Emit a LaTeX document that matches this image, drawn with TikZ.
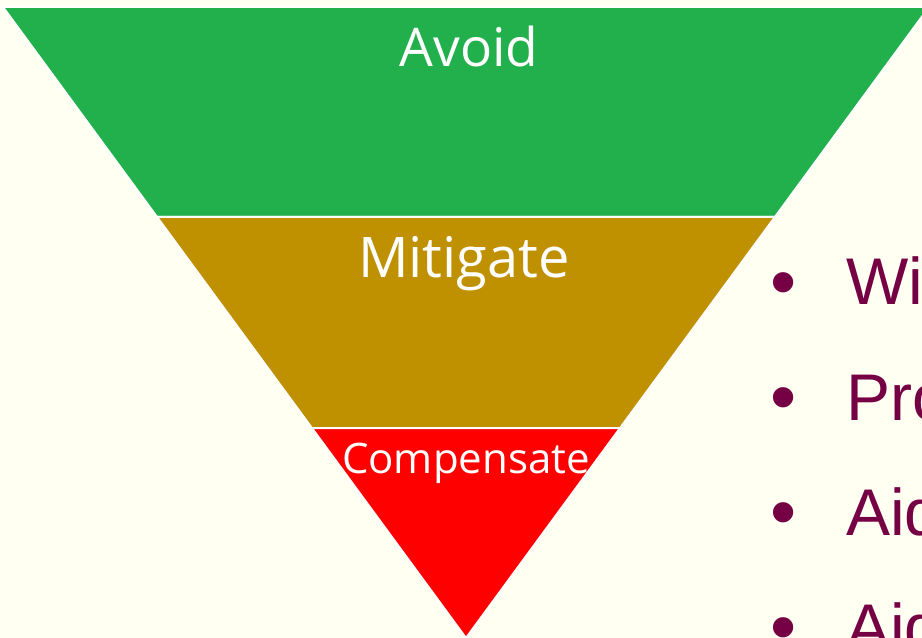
\documentclass[tikz,border=0pt]{standalone}
\usepackage{fontspec}
\newfontfamily\labelfont{Open Sans}
\newfontfamily\itemfont{Liberation Sans}

\definecolor{bgcream}{RGB}{255,255,242}
\definecolor{avoidgreen}{RGB}{33,176,75}
\definecolor{mitigategold}{RGB}{191,144,0}
\definecolor{compred}{RGB}{255,0,0}
\definecolor{itemmaroon}{RGB}{118,0,68}

\def\apx{466}    % apex of the funnel, x
\def\apy{638}    % apex of the funnel, y
\def\slope{.7338} % half width per unit of height
\def\gap{115}    % distance between two bullet lines

\begin{document}
\begin{tikzpicture}[x=.75pt,y=-.75pt,
  band/.style={draw=white, line width=1.5pt},
  bandlabel/.style={text=white, inner sep=0, anchor=base},
  dotmark/.style={text=itemmaroon, inner sep=0, font=\itemfont\fontsize{56}{57}\selectfont},
  itemtext/.style={text=itemmaroon, inner sep=0, anchor=base west, font=\itemfont\fontsize{49.5}{50}\selectfont}]

% page
\fill[bgcream] (0,0) rectangle (922,638);
\useasboundingbox (0,0) rectangle (922,638);

% bands of the funnel (top to bottom)
\foreach \ytop/\ybot/\col in {7/217/avoidgreen, 217/428/mitigategold, 428/638/compred}
  {
  \filldraw[band, fill=\col] ({\apx-\slope*(\apy-\ytop)},\ytop) -- ({\apx+\slope*(\apy-\ytop)},\ytop)
    -- ({\apx+\slope*(\apy-\ybot)},\ybot) -- ({\apx-\slope*(\apy-\ybot)},\ybot) -- cycle;
  }

% band labels
\node[bandlabel, font=\labelfont\fontsize{40}{41}\selectfont] (avoid) at (469,67) {Avoid};
\node[bandlabel, font=\labelfont\fontsize{42}{43}\selectfont] (mitigate) at (464,277) {Mitigate};
\node[bandlabel, font=\labelfont\fontsize{31.5}{32}\selectfont] (compensate) at (466,473) {Compensate};

% bullet list, cut by the right edge as in the slide
\foreach \txt [count=\i] in {Wit,Pro,Aid,Aid}
  {
  \node[dotmark] (dot\i) at (784,{290+\gap*(\i-1)}) {•};
  \node[itemtext] (item\i) at (846,{305+\gap*(\i-1)}) {\txt};
  }

\end{tikzpicture}
\end{document}
